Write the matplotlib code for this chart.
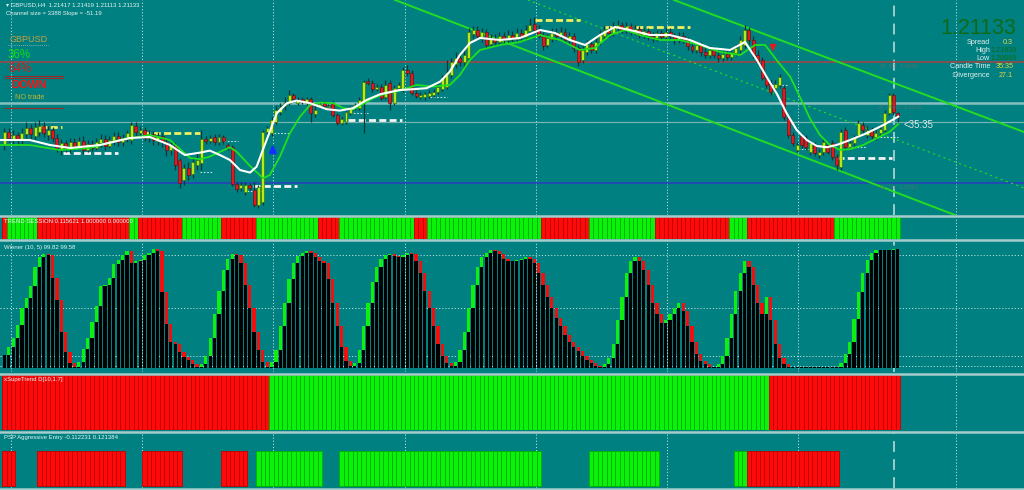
import numpy as np
import matplotlib
matplotlib.use('Agg')
import matplotlib.pyplot as plt
from matplotlib.lines import Line2D

plt.rcParams['font.family'] = ['Liberation Sans', 'DejaVu Sans']

W, H = 1024, 490
BG = '#008080'

# ---------------- price data (H4 candles, 205 bars) ----------------
opens = [
    1.1975, 1.2040, 1.2000, 1.2025, 1.2000, 1.2030, 1.2060, 1.2020, 1.2040, 1.2070,
    1.2025, 1.2050, 1.2010, 1.1950, 1.1985, 1.1955, 1.1990, 1.1970, 1.1995, 1.1950,
    1.1980, 1.1960, 1.1985, 1.2005, 1.1970, 1.1995, 1.2020, 1.1990, 1.2010, 1.2000,
    1.2070, 1.2035, 1.2050, 1.2010, 1.2030, 1.1995, 1.2020, 1.1990, 1.1950, 1.1975,
    1.1900, 1.1800, 1.1860, 1.1830, 1.1875, 1.1885, 1.2005, 1.1995, 1.2015, 1.1990,
    1.2015, 1.1975, 1.1965, 1.1780, 1.1760, 1.1740, 1.1775, 1.1750, 1.1675, 1.1690,
    1.2040, 1.2035, 1.2090, 1.2140, 1.2170, 1.2185, 1.2225, 1.2185, 1.2205, 1.2185,
    1.2205, 1.2130, 1.2170, 1.2185, 1.2165, 1.2185, 1.2125, 1.2085, 1.2090, 1.2135,
    1.2165, 1.2160, 1.2185, 1.2295, 1.2285, 1.2255, 1.2265, 1.2215, 1.2285, 1.2185,
    1.2260, 1.2250, 1.2350, 1.2335, 1.2235, 1.2215, 1.2215, 1.2220, 1.2225, 1.2240,
    1.2255, 1.2265, 1.2325, 1.2380, 1.2410, 1.2390, 1.2410, 1.2530, 1.2550, 1.2510,
    1.2540, 1.2480, 1.2510, 1.2490, 1.2520, 1.2500, 1.2525, 1.2505, 1.2535, 1.2515,
    1.2545, 1.2580, 1.2550, 1.2525, 1.2475, 1.2505, 1.2535, 1.2520, 1.2540, 1.2500,
    1.2520, 1.2460, 1.2400, 1.2440, 1.2480, 1.2450, 1.2490, 1.2520, 1.2550, 1.2535,
    1.2560, 1.2575, 1.2550, 1.2570, 1.2540, 1.2555, 1.2525, 1.2545, 1.2520, 1.2510,
    1.2535, 1.2515, 1.2540, 1.2520, 1.2500, 1.2520, 1.2500, 1.2470, 1.2450, 1.2475,
    1.2440, 1.2425, 1.2450, 1.2425, 1.2410, 1.2430, 1.2415, 1.2435, 1.2450, 1.2475,
    1.2550, 1.2500, 1.2425, 1.2400, 1.2310, 1.2285, 1.2260, 1.2275, 1.2260, 1.2115,
    1.2025, 1.1950, 1.2020, 1.2010, 1.1940, 1.1975, 1.1925, 1.1940, 1.1975, 1.1985,
    1.1915, 1.1865, 1.2050, 1.1965, 1.1985, 1.2025, 1.2075, 1.2025, 1.2050, 1.2015,
    1.2035, 1.2050, 1.2135, 1.2225, 1.2135,
]
closes = [
    1.2040, 1.2010, 1.2025, 1.2000, 1.2035, 1.2060, 1.2030, 1.2065, 1.2070, 1.2035,
    1.2050, 1.2010, 1.1960, 1.1985, 1.1960, 1.1990, 1.1970, 1.1995, 1.1950, 1.1980,
    1.1960, 1.1990, 1.2005, 1.1970, 1.2000, 1.2020, 1.1990, 1.2010, 1.2035, 1.2075,
    1.2040, 1.2050, 1.2010, 1.2030, 1.2000, 1.2020, 1.1990, 1.1950, 1.1975, 1.1875,
    1.1785, 1.1860, 1.1825, 1.1890, 1.1900, 1.2005, 1.1995, 1.2010, 1.1990, 1.2015,
    1.1995, 1.1965, 1.1780, 1.1755, 1.1775, 1.1775, 1.1760, 1.1675, 1.1765, 1.2040,
    1.2060, 1.2100, 1.2150, 1.2165, 1.2185, 1.2225, 1.2205, 1.2200, 1.2190, 1.2205,
    1.2135, 1.2150, 1.2180, 1.2170, 1.2170, 1.2125, 1.2085, 1.2105, 1.2140, 1.2160,
    1.2175, 1.2200, 1.2290, 1.2285, 1.2255, 1.2265, 1.2210, 1.2275, 1.2185, 1.2260,
    1.2275, 1.2350, 1.2335, 1.2235, 1.2220, 1.2225, 1.2230, 1.2235, 1.2240, 1.2265,
    1.2310, 1.2335, 1.2390, 1.2410, 1.2390, 1.2425, 1.2540, 1.2550, 1.2520, 1.2540,
    1.2475, 1.2510, 1.2490, 1.2520, 1.2500, 1.2525, 1.2510, 1.2535, 1.2515, 1.2550,
    1.2575, 1.2550, 1.2520, 1.2470, 1.2510, 1.2535, 1.2520, 1.2540, 1.2500, 1.2520,
    1.2460, 1.2390, 1.2450, 1.2480, 1.2450, 1.2490, 1.2525, 1.2550, 1.2535, 1.2565,
    1.2575, 1.2550, 1.2570, 1.2540, 1.2555, 1.2525, 1.2545, 1.2520, 1.2510, 1.2535,
    1.2515, 1.2540, 1.2520, 1.2500, 1.2520, 1.2500, 1.2470, 1.2450, 1.2475, 1.2440,
    1.2425, 1.2450, 1.2425, 1.2410, 1.2430, 1.2415, 1.2440, 1.2460, 1.2500, 1.2550,
    1.2500, 1.2425, 1.2390, 1.2310, 1.2275, 1.2240, 1.2280, 1.2315, 1.2115, 1.2025,
    1.1985, 1.1975, 1.1975, 1.1965, 1.1985, 1.1935, 1.1940, 1.1990, 1.1940, 1.1915,
    1.1875, 1.2040, 1.1965, 1.1985, 1.2010, 1.2085, 1.2050, 1.2050, 1.2020, 1.2035,
    1.2055, 1.2135, 1.2225, 1.2140, 1.2115,
]
highs = [
    1.2060, 1.2060, 1.2050, 1.2040, 1.2060, 1.2090, 1.2080, 1.2090, 1.2100, 1.2090,
    1.2070, 1.2065, 1.2030, 1.2005, 1.2000, 1.2010, 1.2010, 1.2015, 1.2020, 1.2000,
    1.2000, 1.2010, 1.2030, 1.2025, 1.2020, 1.2040, 1.2040, 1.2030, 1.2050, 1.2090,
    1.2090, 1.2070, 1.2065, 1.2050, 1.2045, 1.2040, 1.2035, 1.2005, 1.1995, 1.1990,
    1.1910, 1.1880, 1.1890, 1.1910, 1.1940, 1.2050, 1.2020, 1.2025, 1.2030, 1.2030,
    1.2025, 1.1985, 1.1975, 1.1790, 1.1790, 1.1790, 1.1785, 1.1790, 1.1775, 1.2050,
    1.2070, 1.2115, 1.2170, 1.2185, 1.2215, 1.2250, 1.2235, 1.2215, 1.2215, 1.2215,
    1.2215, 1.2175, 1.2190, 1.2195, 1.2180, 1.2195, 1.2135, 1.2115, 1.2150, 1.2170,
    1.2185, 1.2215, 1.2300, 1.2310, 1.2300, 1.2280, 1.2280, 1.2300, 1.2300, 1.2275,
    1.2290, 1.2365, 1.2375, 1.2350, 1.2250, 1.2240, 1.2240, 1.2250, 1.2255, 1.2280,
    1.2325, 1.2400, 1.2410, 1.2440, 1.2430, 1.2450, 1.2560, 1.2570, 1.2570, 1.2560,
    1.2555, 1.2530, 1.2530, 1.2540, 1.2540, 1.2550, 1.2545, 1.2560, 1.2555, 1.2575,
    1.2610, 1.2615, 1.2575, 1.2540, 1.2530, 1.2560, 1.2560, 1.2565, 1.2560, 1.2540,
    1.2535, 1.2475, 1.2470, 1.2500, 1.2500, 1.2510, 1.2550, 1.2570, 1.2570, 1.2590,
    1.2600, 1.2590, 1.2590, 1.2585, 1.2575, 1.2570, 1.2560, 1.2560, 1.2540, 1.2550,
    1.2550, 1.2560, 1.2560, 1.2535, 1.2540, 1.2540, 1.2515, 1.2490, 1.2490, 1.2490,
    1.2460, 1.2470, 1.2465, 1.2440, 1.2450, 1.2450, 1.2460, 1.2480, 1.2520, 1.2575,
    1.2565, 1.2520, 1.2450, 1.2415, 1.2325, 1.2300, 1.2300, 1.2330, 1.2275, 1.2125,
    1.2040, 1.1990, 1.2035, 1.2025, 1.2000, 1.1990, 1.1955, 1.2005, 1.1990, 1.2000,
    1.1930, 1.2055, 1.2065, 1.2000, 1.2025, 1.2100, 1.2090, 1.2070, 1.2065, 1.2050,
    1.2070, 1.2150, 1.2235, 1.2235, 1.2140,
]
lows = [
    1.1950, 1.1990, 1.1975, 1.1970, 1.1980, 1.2010, 1.2000, 1.2000, 1.2020, 1.2015,
    1.2000, 1.1990, 1.1940, 1.1925, 1.1940, 1.1935, 1.1950, 1.1955, 1.1930, 1.1940,
    1.1945, 1.1950, 1.1965, 1.1950, 1.1960, 1.1975, 1.1970, 1.1970, 1.1990, 1.1980,
    1.2020, 1.2015, 1.1995, 1.1990, 1.1975, 1.1975, 1.1965, 1.1920, 1.1925, 1.1850,
    1.1760, 1.1775, 1.1800, 1.1810, 1.1850, 1.1850, 1.1980, 1.1985, 1.1975, 1.1975,
    1.1980, 1.1950, 1.1770, 1.1740, 1.1745, 1.1725, 1.1750, 1.1665, 1.1660, 1.1675,
    1.2030, 1.2020, 1.2080, 1.2125, 1.2150, 1.2175, 1.2190, 1.2175, 1.2180, 1.2175,
    1.2090, 1.2115, 1.2160, 1.2160, 1.2150, 1.2115, 1.2075, 1.2075, 1.2080, 1.2125,
    1.2150, 1.2150, 1.2035, 1.2275, 1.2240, 1.2245, 1.2200, 1.2205, 1.2150, 1.2175,
    1.2250, 1.2240, 1.2320, 1.2225, 1.2210, 1.2205, 1.2200, 1.2210, 1.2215, 1.2230,
    1.2245, 1.2255, 1.2310, 1.2360, 1.2370, 1.2370, 1.2400, 1.2510, 1.2500, 1.2490,
    1.2460, 1.2465, 1.2475, 1.2475, 1.2485, 1.2485, 1.2490, 1.2490, 1.2500, 1.2500,
    1.2530, 1.2535, 1.2510, 1.2450, 1.2460, 1.2490, 1.2500, 1.2505, 1.2485, 1.2480,
    1.2440, 1.2370, 1.2385, 1.2425, 1.2435, 1.2435, 1.2475, 1.2500, 1.2515, 1.2520,
    1.2540, 1.2535, 1.2535, 1.2525, 1.2525, 1.2510, 1.2510, 1.2500, 1.2490, 1.2495,
    1.2500, 1.2500, 1.2500, 1.2480, 1.2485, 1.2485, 1.2450, 1.2435, 1.2435, 1.2420,
    1.2410, 1.2410, 1.2410, 1.2390, 1.2395, 1.2400, 1.2400, 1.2420, 1.2435, 1.2460,
    1.2480, 1.2410, 1.2375, 1.2300, 1.2260, 1.2225, 1.2240, 1.2260, 1.2100, 1.2010,
    1.1970, 1.1940, 1.1960, 1.1950, 1.1925, 1.1920, 1.1910, 1.1925, 1.1930, 1.1900,
    1.1850, 1.1850, 1.1950, 1.1950, 1.1970, 1.2010, 1.2035, 1.2010, 1.2005, 1.2000,
    1.2020, 1.2040, 1.2125, 1.2125, 1.2090,
]

# smoothed lines: (bar, price) vertices
white_bars = [-1.0, 5.8, 10.4, 15.0, 21.8, 28.7, 33.2, 37.8, 41.2, 44.7, 46.9, 49.2, 51.5, 53.8,
              56.1, 57.6, 59.0, 60.6, 62.2, 64.5, 66.7, 69.8, 73.6, 76.6, 79.6, 82.7, 85.8,
              90.3, 93.3, 96.4, 99.5, 101.7, 104.0, 106.3, 108.6, 113.2, 117.7, 122.3, 125.7,
              129.1, 132.6, 136.0, 139.4, 142.8, 147.4, 151.9, 156.5, 161.1, 165.7, 169.1,
              171.8, 174.0, 176.3, 178.6, 180.9, 183.2, 185.5, 187.8, 190.0, 193.1, 196.9,
              200.7, 204.1]
white_vals = [1.2000, 1.2000, 1.1975, 1.1960, 1.1975, 1.2010, 1.2015, 1.1975, 1.1925, 1.1937,
              1.1947, 1.1925, 1.1900, 1.1850, 1.1837, 1.1867, 1.1950, 1.2042, 1.2134, 1.2184,
              1.2197, 1.2184, 1.2154, 1.2147, 1.2159, 1.2200, 1.2229, 1.2250, 1.2254, 1.2259,
              1.2292, 1.2342, 1.2425, 1.2485, 1.2510, 1.2500, 1.2510, 1.2550, 1.2535, 1.2500,
              1.2475, 1.2525, 1.2565, 1.2550, 1.2525, 1.2525, 1.2500, 1.2460, 1.2450, 1.2490,
              1.2400, 1.2317, 1.2234, 1.2134, 1.2050, 1.2000, 1.1970, 1.1964, 1.1975, 1.2000,
              1.2034, 1.2075, 1.2117]
green_bars = [-1.0, 5.8, 12.7, 19.5, 26.4, 33.2, 37.8, 42.4, 44.7, 46.9, 51.5, 53.0, 56.1, 59.1,
              60.6, 62.9, 65.2, 67.5, 69.8, 72.1, 75.1, 77.4, 79.7, 81.9, 84.2, 87.3, 90.3,
              94.1, 97.9, 101.7, 104.0, 106.3, 108.6, 113.2, 117.7, 122.3, 126.9, 131.4, 134.8,
              138.3, 141.7, 145.1, 149.7, 154.2, 158.8, 163.4, 168.0, 171.4, 173.7, 176.3,
              179.4, 181.6, 183.9, 186.2, 188.5, 190.8, 193.1, 196.1, 199.2, 202.2, 204.1]
green_vals = [1.1975, 1.1975, 1.1950, 1.1960, 1.2000, 1.2025, 1.2000, 1.1910, 1.1904, 1.1917,
              1.1964, 1.1942, 1.1870, 1.1809, 1.1825, 1.1917, 1.2034, 1.2117, 1.2175, 1.2187,
              1.2184, 1.2159, 1.2154, 1.2180, 1.2209, 1.2234, 1.2247, 1.2275, 1.2267, 1.2275,
              1.2325, 1.2400, 1.2450, 1.2475, 1.2490, 1.2525, 1.2500, 1.2450, 1.2460, 1.2525,
              1.2550, 1.2525, 1.2500, 1.2500, 1.2475, 1.2440, 1.2425, 1.2475, 1.2475, 1.2400,
              1.2317, 1.2217, 1.2109, 1.2025, 1.1975, 1.1950, 1.1954, 1.1975, 1.2009, 1.2042,
              1.2080]

# channel lines: (bar, price) end points
chan_upper = [(152.9, 1.2700), (232.8, 1.2040)]
chan_lower = [(89.2, 1.2700), (217.0, 1.1625)]
chan_mid = [(119.5, 1.2700), (232.8, 1.1760)]

hlines_main = {'res': 1.2390, 'pivot': 1.2187, 'pivot2': 1.2092, 'sup': 1.1784}

# thick dashed levels: (bar start, bar end, price, colour)
levels = [(8.1, 13.2, 1.2065, 'yellow'), (13.4, 25.9, 1.1935, 'white'),
          (31.6, 44.7, 1.2035, 'yellow'), (56.8, 66.8, 1.1770, 'white'),
          (78.4, 90.8, 1.2100, 'white'), (121.1, 131.4, 1.2600, 'yellow'),
          (137.1, 156.5, 1.2565, 'yellow'), (190.1, 202.6, 1.1912, 'white')]
# thin dotted levels
dots = [(44.7, 47.4, 1.1842), (50.1, 53.3, 1.1995), (55.4, 59.0, 1.1745), (61.6, 65.2, 1.2037),
        (66.8, 69.8, 1.2197), (78.9, 83.0, 1.2134), (97.2, 101.1, 1.2215), (175.2, 178.9, 1.2275),
        (181.2, 185.1, 1.1955), (192.4, 197.0, 1.1965), (199.9, 204.0, 1.2014)]

# ---------------- indicator data ----------------
trend_runs = [('R', 1), ('G', 7), ('R', 21), ('G', 2), ('R', 10), ('G', 9), ('R', 8), ('G', 14),
              ('R', 5), ('G', 17), ('R', 3), ('G', 26), ('R', 11), ('G', 15), ('R', 17),
              ('G', 4), ('R', 20), ('G', 15)]
super_runs = [('R', 61), ('G', 114), ('R', 30)]
psp_runs = [('R', 3), ('N', 5), ('R', 20), ('N', 4), ('R', 9), ('N', 9), ('R', 6), ('N', 2),
            ('G', 15), ('N', 4), ('G', 46), ('N', 11), ('G', 16), ('N', 17), ('G', 3),
            ('R', 21), ('N', 14)]

wiener = [11, 18, 25, 36, 50, 59, 69, 85, 93, 96,
          95, 76, 57, 30, 13, 4, 1, 5, 16, 25,
          39, 52, 69, 70, 76, 87, 91, 95, 98, 88,
          90, 91, 95, 97, 100, 98, 64, 37, 22, 20,
          13, 9, 7, 3, 0.5, 3, 10, 25, 45, 65,
          82, 92, 96, 95, 88, 70, 50, 30, 15, 5,
          1, 5, 15, 35, 55, 75, 88, 94, 97, 98,
          97, 93, 90, 88, 75, 55, 35, 18, 6, 2,
          4, 15, 35, 55, 72, 85, 92, 95, 96, 94,
          93, 95, 97, 96, 90, 80, 65, 50, 35, 20,
          10, 4, 2, 5, 15, 30, 50, 70, 85, 93,
          97, 99, 98, 96, 92, 90, 90, 91, 92, 93,
          92, 88, 80, 70, 60, 50, 42, 35, 28, 22,
          18, 14, 10, 7, 4, 2, 1, 3, 8, 20,
          40, 60, 80, 90, 93, 90, 82, 70, 55, 45,
          38, 40, 45, 50, 55, 48, 35, 22, 12, 6,
          3, 1, 1, 3, 10, 25, 45, 65, 80, 90,
          85, 70, 55, 45, 60, 40, 20, 8, 3, 1,
          0.5, 0.5, 0.5, 0.5, 0.5, 0.5, 0.5, 0.5, 0.5, 0.5,
          1, 4, 12, 22, 41, 64, 80, 91, 97, 99,
          99, 99, 99.5, 99.6, 99.8]
wiener_levels = [95, 50, 10, 2]

grid_bars = [1.44, 31.4, 61.3, 91.4, 121.3, 151.2, 181.1, 217.2]
now_bar = 203.1
XMIN, XMAX = -1.0, 232.8

# ---------------- figure ----------------
fig = plt.figure(figsize=(W / 100, H / 100), dpi=100, facecolor=BG)


def rect(top, bottom):
    return [0, 1 - bottom / H, 1, (bottom - top) / H]


def fx(x):
    return x / W


def fy(y):
    return 1 - y / H


ax_main = fig.add_axes(rect(0, 215))
ax_trend = fig.add_axes(rect(217, 239))
ax_wien = fig.add_axes(rect(242, 372))
ax_st = fig.add_axes(rect(375, 430))
ax_psp = fig.add_axes(rect(433, 488))
all_axes = [ax_main, ax_trend, ax_wien, ax_st, ax_psp]
for ax in all_axes:
    ax.set_facecolor(BG)
    ax.set_xlim(XMIN, XMAX)
    for s in ax.spines.values():
        s.set_visible(False)
    ax.set_xticks([])
    ax.set_yticks([])
    for b in grid_bars:
        ax.axvline(b, color='#b8dede', lw=0.7, ls=(0, (1.2, 2.0)), zorder=0)
    ax.axvline(now_bar, color='#a8d4d4', lw=1.3, ls=(0, (6, 4)), zorder=0)

n = len(closes)
x = np.arange(n)
o = np.array(opens)
c = np.array(closes)
hi = np.array(highs)
lo = np.array(lows)

# ---- main chart ----
ax_main.set_ylim(1.1625, 1.2700)
ax_main.axhline(hlines_main['res'], color='#9a4848', lw=1.2, zorder=1)
ax_main.axhline(hlines_main['pivot'], color='#86c0c0', lw=1.8, zorder=1)
ax_main.axhline(hlines_main['pivot2'], color='#78b4b4', lw=0.9, zorder=1)
ax_main.axhline(hlines_main['sup'], color='#2a3cc0', lw=1.1, zorder=1)

for pts, st, lw in [(chan_upper, '-', 1.4), (chan_lower, '-', 1.4), (chan_mid, (0, (2, 3)), 0.8)]:
    ax_main.plot([p[0] for p in pts], [p[1] for p in pts], color='#22dd22', lw=lw, ls=st, zorder=2)

for b0, b1, p, col in levels:
    cc = '#f0f060' if col == 'yellow' else '#f4f4f4'
    ax_main.plot([b0, b1], [p, p], color=cc, lw=2.0, ls=(0, (2.5, 1.2)), zorder=3)
for b0, b1, p in dots:
    ax_main.plot([b0, b1], [p, p], color='#c8e0e0', lw=0.8, ls=(0, (1.5, 1.5)), zorder=3)

bull = c >= o
ax_main.vlines(x, lo, hi, color='#0b3535', lw=0.9, zorder=4)
body = np.maximum(np.abs(c - o), 0.0004)
ax_main.bar(x, body, bottom=np.minimum(o, c), width=0.68,
            color=np.where(bull, '#b6ea12', '#e8141e'),
            edgecolor=np.where(bull, '#2a6a10', '#5a1010'), linewidth=0.4, zorder=5)

ax_main.plot(green_bars, green_vals, color='#1ee01e', lw=1.3, zorder=6)
ax_main.plot(white_bars, white_vals, color='#ffffff', lw=1.5, zorder=7)

ax_main.annotate('', xy=(61.3, 1.1990), xytext=(61.3, 1.1938),
                 arrowprops=dict(arrowstyle='-|>', color='#1430ff', lw=2.0, mutation_scale=9), zorder=8)
ax_main.annotate('', xy=(175.5, 1.2430), xytext=(175.5, 1.2472),
                 arrowprops=dict(arrowstyle='-|>', color='#e81818', lw=1.6, mutation_scale=7), zorder=8)

# ---- trend session ----
def expand(runs):
    return [k for k, m in runs for _ in range(m)]


cols = {'R': '#ff0a0a', 'G': '#0af20a'}
edges = {'R': '#c00000', 'G': '#00b000'}
tr = expand(trend_runs)
ax_trend.set_ylim(0, 1)
ax_trend.bar(x, 1, width=1.0, color=[cols[k] for k in tr], edgecolor=[edges[k] for k in tr],
             linewidth=0.6, zorder=2)

# ---- wiener ----
wv = np.array(wiener, dtype=float)
prev = np.concatenate([[wv[0]], wv[:-1]])
top = np.maximum(wv, prev)
low_part = np.minimum(wv, prev)
wcol = np.where(wv >= prev, '#10f010', '#f01010')
ax_wien.set_ylim(-3.4, 105.9)
for lv in wiener_levels:
    ax_wien.axhline(lv, color='#b8dede', lw=0.7, ls=(0, (1.2, 2.0)), zorder=0)
ax_wien.bar(x, top, width=0.74, color=wcol, zorder=2)
ax_wien.bar(x, low_part, width=0.74, color='#000000', zorder=3)

# ---- xSuperTrend ----
sr = expand(super_runs)
ax_st.set_ylim(0, 1)
ax_st.bar(x, 1, width=1.0, color=[cols[k] for k in sr], edgecolor=[edges[k] for k in sr],
          linewidth=0.6, zorder=2)

# ---- PSP ----
pr = expand(psp_runs)
ax_psp.set_ylim(-0.057, 1.514)
mask = np.array([k != 'N' for k in pr])
ax_psp.bar(x[mask], 1, width=1.0, color=[cols[k] for k in pr if k != 'N'],
           edgecolor=[edges[k] for k in pr if k != 'N'], linewidth=0.6, zorder=2)

# panel separators
for yy in [216, 240.5, 373.5, 431.5, 488.5]:
    fig.add_artist(Line2D([0, 1], [fy(yy), fy(yy)], color='#a6cccc', lw=1.8))

# ---------------- texts ----------------
small = dict(fontsize=4.3, color='#e8f4f4', va='center', ha='left')
fig.text(fx(6), fy(5), '\u25be GBPUSD,H4  1.21417 1.21419 1.21113 1.21133', **small)
fig.text(fx(6), fy(13), 'Channel size = 3388 Slope = -51.19', **small)
fig.text(fx(4), fy(221), 'TREND SESSION 0.115621 1.000000 0.000000', **small)
fig.text(fx(4), fy(247), 'Wiener (10, 5) 99.82 99.58', **small)
fig.text(fx(4), fy(380), 'xSupeTrend D[10,1.7]', **small)
fig.text(fx(4), fy(438), 'PSP Aggressive Entry -0.112231 0.121384', **small)

fig.text(fx(9), fy(40), 'GBPUSD', fontsize=6.5, color='#c8a040', va='center', ha='left')
fig.add_artist(Line2D([fx(8), fx(48)], [fy(45.5), fy(45.5)], color='#a0c0c0', lw=0.6, ls=(0, (1, 1.5))))
fig.text(fx(8), fy(55), '36%', fontsize=8.3, color='#10e010', va='center', ha='left')
fig.text(fx(8), fy(69), '64%', fontsize=8.3, color='#e01818', va='center', ha='left')
for yy in [76, 78]:
    fig.add_artist(Line2D([fx(5), fx(63)], [fy(yy), fy(yy)], color='#a02828', lw=0.8))
fig.text(fx(11), fy(85), 'DOWN', fontsize=8, fontweight='bold', color='#ff1010', va='center', ha='left')
fig.text(fx(15), fy(97.5), 'NO trade', fontsize=5.2, color='#c8b430', va='center', ha='left')
fig.add_artist(Line2D([fx(5), fx(63)], [fy(108), fy(108)], color='#a02828', lw=0.8))

fig.text(fx(1016), fy(28.5), '1.21133', fontsize=15.5, color='#0e6a18', va='center', ha='right')
lab = dict(fontsize=5.2, color='#e4eeee', va='center', ha='right')
val = dict(fontsize=5.2, va='center')
fig.text(fx(990), fy(43), 'Spread', **lab)
fig.text(fx(1013), fy(43), '0.3', color='#e6d640', ha='right', **val)
fig.text(fx(990), fy(51), 'High', **lab)
fig.text(fx(990), fy(51), '1.21939', color='#0e6a18', ha='left', **val)
fig.text(fx(990), fy(59), 'Low', **lab)
fig.text(fx(990), fy(59), '1.20669', color='#0e6a18', ha='left', **val)
fig.text(fx(990), fy(67), 'Candle Time', **lab)
fig.text(fx(1014), fy(67), '35:35', color='#e6d640', ha='right', **val)
fig.text(fx(990), fy(75.5), ':Divergence', **lab)
fig.text(fx(1013), fy(75.5), '27.1', color='#e6d640', ha='right', **val)

fig.text(fx(904), fy(124.5), '<35:35', fontsize=7, color='#dce8e8', va='center', ha='left')
gray = dict(fontsize=4.3, color='#4c7474', va='center', ha='left')
fig.text(fx(880), fy(66), 'W_R1  1.6842', **gray)
fig.text(fx(878), fy(107), 'W_Pivot  1.6676', **gray)
fig.text(fx(880), fy(187), 'W_S1  1.5791', **gray)

fig.savefig('out.png', dpi=100, facecolor=BG)
